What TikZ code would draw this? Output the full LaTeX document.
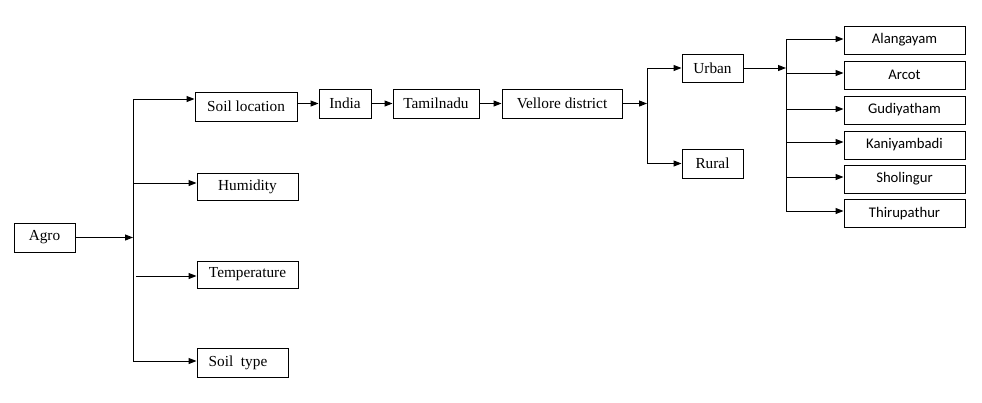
\documentclass[tikz,border=0pt]{standalone}
\usepackage{fontspec}
\setmainfont{Liberation Serif}
\newfontfamily\calibfont{Carlito}
\usetikzlibrary{arrows.meta}
\begin{document}
\begin{tikzpicture}[x=1pt,y=-1pt,
  box/.style={draw,line width=1pt,inner sep=0pt,minimum height=29pt,font=\fontsize{15.3}{18}\selectfont},
  rbox/.style={draw,line width=1pt,inner sep=0pt,minimum width=121pt,minimum height=28pt,font=\calibfont\fontsize{14.7}{17}\selectfont},
  arr/.style={line width=1pt,-{Triangle[length=8pt,width=6pt]}},
  ln/.style={line width=1pt}]
\useasboundingbox (0,0) rectangle (982,402);
% left column
\node[box,minimum width=61pt] (agro) at (44.5,237.5) {Agro};
\node[box,minimum width=102pt] (sl) at (246,106.5) {Soil location};
\node[box,minimum width=101pt,minimum height=27pt] (hum) at (247.5,186.5) {Humidity};
\node[box,minimum width=101pt,minimum height=27pt] (temp) at (247.5,274.5) {Temperature};
\node[box,minimum width=91pt] (st) at (242.5,362.5) {\hspace{-9pt}Soil~ type};
% chain
\node[box,minimum width=52pt] (india) at (345,103.5) {India};
\node[box,minimum width=86pt] (tamil) at (436,103.5) {Tamilnadu};
\node[box,minimum width=120pt] (vel) at (562,103.5) {Vellore district};
\node[box,minimum width=61pt,minimum height=28pt] (urban) at (712.5,68) {Urban};
\node[box,minimum width=61pt] (rural) at (712.5,163.5) {Rural};
% right column
\node[rbox] (ala) at (904.5,40) {Alangayam};
\node[rbox] (arc) at (904.5,75) {Arcot};
\node[rbox] (gud) at (904.5,110) {Gudiyatham};
\node[rbox] (kan) at (904.5,145) {Kaniyambadi};
\node[rbox] (sho) at (904.5,179) {Sholingur};
\node[rbox] (thi) at (904.5,213.5) {Thirupathur};
% trunk 1
\coordinate (a1) at (133,99);
\coordinate (a2) at (133,183);
\coordinate (a3) at (136,276);
\coordinate (a4) at (133,361);
\coordinate (am) at (133,237.5);
\draw[ln] (a1) -- (a4);
\draw[arr] (agro.east) -- (am);
\draw[arr] (a1) -- (a1 -| sl.west);
\draw[arr] (a2) -- (a2 -| hum.west);
\draw[arr] (a3) -- (a3 -| temp.west);
\draw[arr] (a4) -- (a4 -| st.west);
% chain
\draw[arr] (india.west -| sl.east) -- (india.west);
\draw[arr] (india) -- (tamil);
\draw[arr] (tamil) -- (vel);
\coordinate (b) at (647,103.5);
\coordinate (b1) at (647,68);
\coordinate (b2) at (647,163.5);
\draw[arr] (vel.east) -- (b);
\draw[ln] (b1) -- (b2);
\draw[arr] (b1) -- (urban.west);
\draw[arr] (b2) -- (rural.west);
% trunk 2
\coordinate (c) at (786,68);
\coordinate (c1) at (786,39);
\coordinate (c2) at (786,73);
\coordinate (c3) at (786,109);
\coordinate (c4) at (786,142);
\coordinate (c5) at (786,177);
\coordinate (c6) at (786,211);
\draw[arr] (urban.east) -- (c);
\draw[ln] (c1) -- (c6);
\draw[arr] (c1) -- (c1 -| ala.west);
\draw[arr] (c2) -- (c2 -| arc.west);
\draw[arr] (c3) -- (c3 -| gud.west);
\draw[arr] (c4) -- (c4 -| kan.west);
\draw[arr] (c5) -- (c5 -| sho.west);
\draw[arr] (c6) -- (c6 -| thi.west);
\end{tikzpicture}
\end{document}
